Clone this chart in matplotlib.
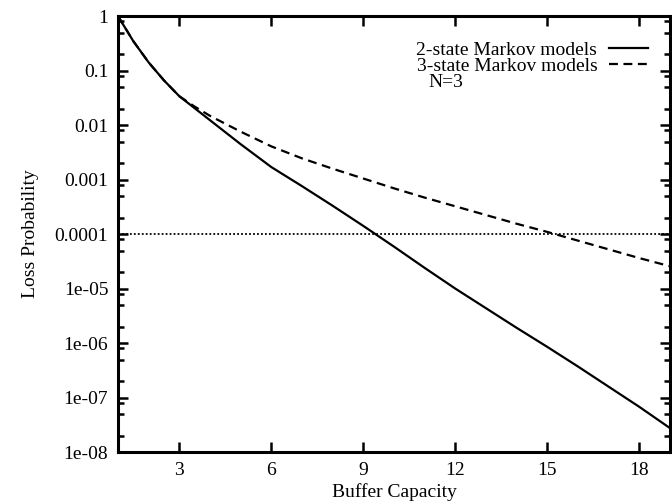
import numpy as np
import matplotlib.pyplot as plt
from matplotlib.ticker import FixedLocator, LogLocator, NullFormatter

plt.rcParams['font.family'] = ['Liberation Serif', 'DejaVu Serif']

buf_2state = [1, 1.5, 2, 2.5, 3, 3.5, 4, 5, 6, 7, 8, 9, 10, 11, 12,
              13, 14, 15, 16, 17, 18, 19]
# log10 of loss probability, 2-state Markov models
log_loss_2state = [0.0, -0.46, -0.85, -1.18, -1.47, -1.69, -1.91, -2.35, -2.77,
                   -3.12, -3.48, -3.85, -4.23, -4.62, -5.0, -5.36, -5.72,
                   -6.07, -6.43, -6.8, -7.17, -7.56]

buf_3state = [1, 1.5, 2, 2.5, 3, 3.5, 4, 5, 6, 7, 8, 9, 10, 11, 12,
              13, 14, 15, 16, 17, 18, 19]
# log10 of loss probability, 3-state Markov models
log_loss_3state = [0.0, -0.46, -0.85, -1.18, -1.47, -1.66, -1.83, -2.12, -2.39,
                   -2.61, -2.8, -2.98, -3.16, -3.33, -3.49, -3.65, -3.81,
                   -3.96, -4.12, -4.28, -4.44, -4.59]

target_loss = 1e-4

x_ticks = [3, 6, 9, 12, 15, 18]
y_ticks = [1, 0.1, 0.01, 0.001, 0.0001, 1e-5, 1e-6, 1e-7, 1e-8]
y_tick_labels = ["1", "0.1", "0.01", "0.001", "0.0001", "1e-05", "1e-06",
                 "1e-07", "1e-08"]

fig = plt.figure(figsize=(6.72, 5.04), dpi=100)
ax = fig.add_axes([0.1756, 0.103, 0.8214, 0.865])

ax.plot(buf_2state, 10 ** np.array(log_loss_2state), color="black", lw=1.6,
        label="2-state Markov models")
ax.plot(buf_3state, 10 ** np.array(log_loss_3state), color="black", lw=1.6,
        linestyle=(0, (4, 2.5)), label="3-state Markov models")
ax.axhline(target_loss, color="black", lw=1.3, linestyle=(0, (1, 1.2)))

ax.set_yscale("log")
ax.set_xlim(1, 19)
ax.set_ylim(1e-8, 1)

ax.xaxis.set_major_locator(FixedLocator(x_ticks))
ax.set_yticks(y_ticks)
ax.set_yticklabels(y_tick_labels)
ax.yaxis.set_minor_locator(LogLocator(base=10, subs=[2, 5, 8]))
ax.yaxis.set_minor_formatter(NullFormatter())

ax.tick_params(which="both", direction="in", top=True, right=True,
               labelsize=14, width=1.8, pad=7)
ax.tick_params(which="major", length=7)
ax.tick_params(which="minor", length=4)
for s in ax.spines.values():
    s.set_linewidth(2.2)

ax.set_xlabel("Buffer Capacity", fontsize=14, labelpad=3)
ax.set_ylabel("Loss Probability", fontsize=14, labelpad=11)

leg = ax.legend(loc="upper right", frameon=False, markerfirst=False,
                fontsize=14, handlelength=2.0, handletextpad=0.6,
                labelspacing=-0.05, bbox_to_anchor=(0.96, 0.943),
                borderaxespad=0, borderpad=0)
ax.text(0.562, 0.847, "N=3", transform=ax.transAxes, fontsize=14,
        va="center", ha="left")

fig.savefig("out.png", dpi=100)
